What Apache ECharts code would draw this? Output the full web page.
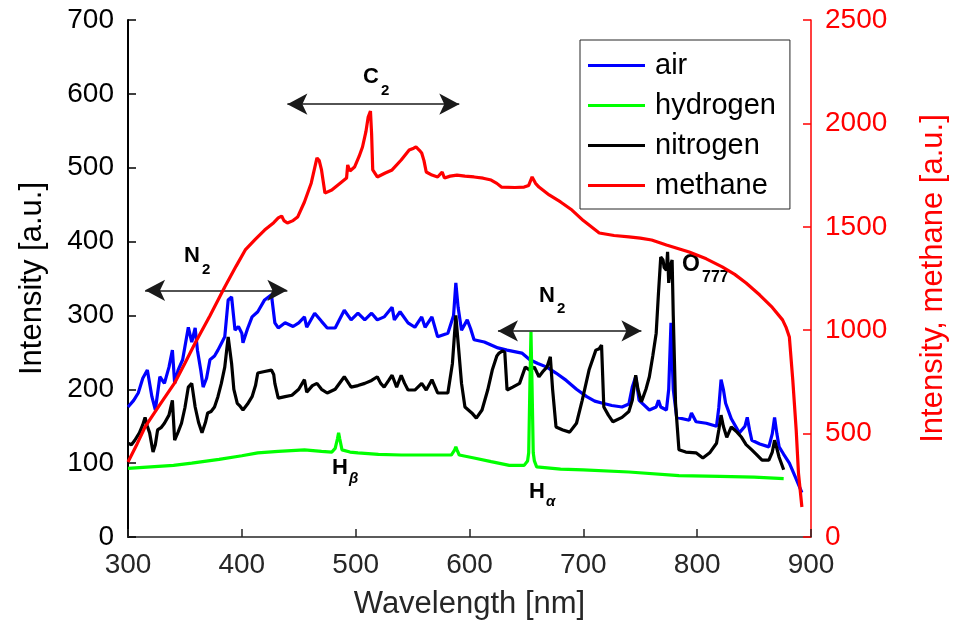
<!DOCTYPE html>
<html>
<head>
<meta charset="utf-8">
<script src="https://cdn.jsdelivr.net/npm/echarts@6/dist/echarts.min.js"></script>
<style>
html,body{margin:0;padding:0;background:#fff;}
#chart{width:957px;height:641px;}
</style>
</head>
<body>
<div id="chart"></div>
<script>
// Axis ticks
const xTicks = [300, 400, 500, 600, 700, 800, 900];
const leftTicks = [0, 100, 200, 300, 400, 500, 600, 700];
const rightTicks = [0, 500, 1000, 1500, 2000, 2500];

// air (left axis) [wavelength nm, intensity]
const air = [[300,176],[305,185],[309,195],[313,215],[317,226],[321,190],[324,172],[328,217],[332,208],[336,230],[339,253],[341,208],[344,226],[348,240],[353,284],[356,264],[359,283],[361,253],[364,225],[366,203],[369,215],[372,240],[376,245],[379,253],[382,262],[385,271],[388,321],[391,325],[394,280],[397,285],[400,276],[401,263],[405,282],[409,298],[414,305],[420,321],[426,328],[429,290],[432,283],[438,290],[445,285],[450,290],[455,298],[457,284],[464,303],[470,292],[475,283],[482,283],[490,307],[496,294],[502,303],[508,294],[514,303],[519,294],[525,298],[532,311],[534,294],[539,305],[546,290],[552,284],[558,298],[561,284],[567,298],[572,271],[581,276],[586,300],[588,344],[590,311],[593,280],[598,294],[601,282],[604,267],[613,264],[625,256],[633,253],[646,249],[653,240],[660,235],[668,230],[676,222],[685,212],[694,200],[703,190],[710,184],[717,181],[725,178],[734,176],[740,180],[743,203],[746,217],[749,185],[758,172],[764,176],[766,185],[768,176],[773,172],[775,200],[777,290],[779,200],[782,162],[793,158],[795,168],[799,156],[808,154],[817,150],[819,175],[821,213],[823,200],[825,181],[830,160],[837,141],[842,150],[844,162],[846,145],[848,131],[855,126],[863,122],[866,140],[868,162],[870,140],[872,122],[876,112],[881,100],[886,82],[892,60]];

// nitrogen (left axis)
const nitrogen = [[300,127],[303,125],[306,131],[310,141],[313,152],[315,162],[317,150],[319,141],[322,115],[324,125],[326,145],[329,148],[332,154],[336,165],[339,185],[341,131],[344,142],[347,154],[350,175],[353,203],[356,208],[359,176],[362,155],[365,141],[368,155],[370,168],[373,170],[376,176],[379,190],[382,208],[385,230],[388,271],[391,235],[393,200],[396,181],[398,178],[401,172],[405,180],[409,190],[412,205],[414,222],[420,224],[426,226],[428,220],[429,208],[432,188],[438,190],[444,192],[450,200],[455,213],[457,196],[462,205],[466,208],[470,200],[475,195],[482,200],[490,217],[496,203],[502,205],[508,208],[514,212],[519,217],[522,208],[525,203],[529,212],[532,219],[536,203],[540,219],[543,208],[546,199],[552,199],[558,208],[562,199],[567,213],[572,195],[581,195],[585,235],[588,300],[590,263],[593,208],[596,176],[602,168],[606,161],[611,172],[616,199],[620,226],[624,245],[626,249],[629,252],[631,250],[633,199],[638,203],[644,208],[649,230],[653,226],[657,230],[661,217],[665,225],[668,230],[671,244],[673,200],[676,149],[682,145],[688,142],[694,154],[699,185],[705,226],[711,253],[714,255],[716,260],[718,176],[722,165],[726,156],[734,162],[740,170],[743,185],[746,219],[748,200],[751,183],[755,200],[758,217],[761,245],[764,276],[766,330],[768,379],[770,375],[771,365],[773,361],[774,386],[775,344],[777,370],[778,375],[779,300],[781,181],[784,118],[790,115],[799,114],[805,107],[811,114],[817,127],[819,145],[821,165],[823,150],[826,135],[830,149],[835,142],[839,135],[843,125],[848,118],[852,112],[857,104],[863,104],[866,115],[868,131],[870,120],[872,108],[876,91]];

// hydrogen (left axis)
const hydrogen = [[300,93],[320,95],[340,97],[356,100],[380,105],[400,110],[414,114],[432,116],[455,118],[470,116],[479,115],[482,120],[484,133],[485,141],[486,133],[488,118],[495,115],[502,114],[520,112],[540,111],[561,111],[584,111],[587,118],[588,122],[589,118],[591,111],[604,107],[619,102],[635,97],[648,97],[651,103],[652,114],[653,200],[654,278],[655,200],[656,114],[657,103],[659,95],[680,92],[700,91],[740,88],[784,83],[820,82],[850,81],[876,79]];

// methane (right axis)
const methane = [[300,363],[308,450],[315,532],[328,640],[341,745],[350,840],[359,938],[372,1070],[385,1209],[395,1310],[403,1388],[412,1440],[420,1484],[428,1520],[432,1543],[435,1552],[437,1530],[440,1518],[445,1530],[449,1547],[455,1620],[461,1712],[466,1833],[468,1820],[470,1775],[473,1663],[479,1678],[485,1705],[492,1736],[493,1799],[495,1770],[499,1789],[503,1840],[506,1886],[509,1960],[511,2031],[513,2060],[514,1950],[515,1775],[519,1741],[526,1760],[532,1775],[540,1823],[547,1871],[551,1880],[553,1886],[556,1870],[558,1857],[560,1820],[562,1765],[567,1750],[572,1741],[576,1765],[578,1736],[583,1745],[589,1750],[596,1745],[604,1741],[612,1735],[619,1726],[624,1710],[628,1692],[640,1690],[648,1692],[652,1700],[655,1741],[658,1710],[661,1692],[670,1654],[680,1620],[690,1581],[700,1530],[714,1470],[727,1458],[740,1451],[750,1445],[760,1436],[773,1412],[783,1395],[793,1378],[808,1345],[822,1306],[833,1270],[843,1228],[855,1170],[866,1110],[875,1050],[878,1015],[881,967],[884,759],[887,517],[889,309],[892,145]];

// band arrows [start nm, end nm, intensity]
const n2LeftBand = [315, 440, 334];
const c2Band = [440, 591, 586];
const n2RightBand = [625, 751, 279];

const FONT = '"Liberation Sans", Arial, Helvetica, sans-serif';
const AXC = '#262626';

const chart = echarts.init(document.getElementById('chart'), null, {renderer: 'canvas'});

function bandLine(b) {
  return [{coord: [b[0], b[2]]}, {coord: [b[1], b[2]]}];
}

function txt(x, y, s, size, extra) {
  return Object.assign({
    type: 'text', left: x, top: y, silent: true,
    style: {text: s, font: 'bold ' + size + 'px ' + FONT, fill: '#000'}
  }, extra || {});
}

const option = {
  animation: false,
  backgroundColor: '#fff',
  grid: {left: 128, right: 145, top: 20, bottom: 104, containLabel: false},
  legend: {
    data: ['air', 'hydrogen', 'nitrogen', 'methane'],
    orient: 'vertical',
    left: 580, top: 40,
    padding: [11, 14, 9, 8],
    itemGap: 11,
    itemWidth: 57,
    itemHeight: 3,
    icon: 'rect',
    borderColor: AXC,
    borderWidth: 1,
    backgroundColor: '#fff',
    textStyle: {fontSize: 29, fontFamily: FONT, color: '#000', padding: [0, 0, 0, 5]}
  },
  xAxis: {
    type: 'value', min: 300, max: 900, interval: 100,
    name: 'Wavelength [nm]', nameLocation: 'middle', nameGap: 52,
    nameTextStyle: {fontSize: 31, fontFamily: FONT, color: AXC},
    axisLine: {show: true, onZero: false, lineStyle: {color: AXC, width: 1.5}},
    axisTick: {show: true, inside: true, length: 8, lineStyle: {color: AXC, width: 1.5}},
    axisLabel: {fontSize: 28, fontFamily: FONT, color: AXC, margin: 14},
    splitLine: {show: false}
  },
  yAxis: [{
    type: 'value', min: 0, max: 700, interval: 100, position: 'left',
    name: 'Intensity [a.u.]', nameLocation: 'middle', nameGap: 80, nameRotate: 90,
    nameTextStyle: {fontSize: 31, fontFamily: FONT, color: '#000'},
    axisLine: {show: true, onZero: false, lineStyle: {color: '#000', width: 2}},
    axisTick: {show: true, inside: true, length: 8, lineStyle: {color: '#000', width: 1.5}},
    axisLabel: {fontSize: 28, fontFamily: FONT, color: '#000', margin: 14},
    splitLine: {show: false}
  }, {
    type: 'value', min: 0, max: 2500, interval: 500, position: 'right',
    name: 'Intensity, methane [a.u.]', nameLocation: 'middle', nameGap: 107, nameRotate: 90,
    nameTextStyle: {fontSize: 31, fontFamily: FONT, color: '#ff0000'},
    axisLine: {show: true, onZero: false, lineStyle: {color: '#ff0000', width: 1.5}},
    axisTick: {show: true, inside: true, length: 8, lineStyle: {color: '#ff0000', width: 1.5}},
    axisLabel: {fontSize: 28, fontFamily: FONT, color: '#ff0000', margin: 14, formatter: function (v) { return String(v); }},
    splitLine: {show: false}
  }],
  series: [{
    name: 'air', type: 'line', yAxisIndex: 0, data: air, showSymbol: false, symbol: 'none',
    lineStyle: {color: '#0000ff', width: 3.2}, itemStyle: {color: '#0000ff'}, z: 2,
    markLine: {
      silent: true, symbol: ['arrow', 'arrow'], symbolSize: [16, 20],
      label: {show: false},
      lineStyle: {color: '#1a1a1a', width: 1.5, type: 'solid'},
      data: [bandLine(n2LeftBand), bandLine(c2Band), bandLine(n2RightBand)]
    }
  }, {
    name: 'nitrogen', type: 'line', yAxisIndex: 0, data: nitrogen, showSymbol: false, symbol: 'none',
    lineStyle: {color: '#000000', width: 3.2}, itemStyle: {color: '#000000'}, z: 3
  }, {
    name: 'hydrogen', type: 'line', yAxisIndex: 0, data: hydrogen, showSymbol: false, symbol: 'none',
    lineStyle: {color: '#00ff00', width: 3.2}, itemStyle: {color: '#00ff00'}, z: 4
  }, {
    name: 'methane', type: 'line', yAxisIndex: 1, data: methane, showSymbol: false, symbol: 'none',
    lineStyle: {color: '#ff0000', width: 3.2}, itemStyle: {color: '#ff0000'}, z: 5
  }],
  graphic: [
    txt(184, 245, 'N', 22), txt(202, 262, '2', 15),
    txt(363, 66, 'C', 22), txt(381, 83, '2', 15),
    txt(539, 285, 'N', 22), txt(557, 301, '2', 15),
    txt(332, 457, 'H', 22), {type: 'text', left: 349, top: 471, silent: true, style: {text: 'β', font: 'italic bold 15px ' + FONT, fill: '#000'}},
    txt(529, 481, 'H', 22), {type: 'text', left: 546, top: 494, silent: true, style: {text: 'α', font: 'italic bold 15px ' + FONT, fill: '#000'}},
    txt(682, 253, 'O', 23), txt(702, 270, '777', 16)
  ]
};
chart.setOption(option);
</script>
</body>
</html>
